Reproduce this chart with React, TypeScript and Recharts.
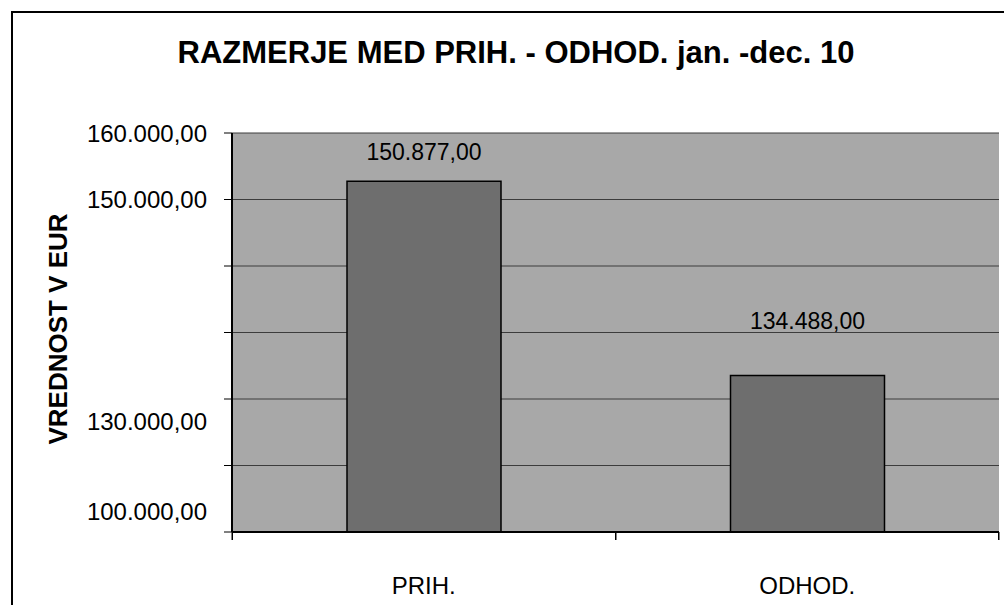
import React from 'react';
import { BarChart, Bar, XAxis, YAxis, CartesianGrid, LabelList } from 'recharts';

const title = 'RAZMERJE MED PRIH. - ODHOD. jan. -dec. 10';
const yAxisTitle = 'VREDNOST V EUR';
const categories = ['PRIH.', 'ODHOD.'];
const barHeights = [152760, 123520];
// value labels as printed in the picture
const valueLabels = ['150.877,00', '134.488,00'];
const yTicks = [100000, 110000, 120000, 130000, 140000, 150000, 160000];
const yTickLabels = ['100.000,00', '', '130.000,00', '', '', '150.000,00', '160.000,00'];

const data = categories.map((name, i) => ({ name, value: barHeights[i], label: valueLabels[i] }));

const FONT = '"Liberation Sans", Arial, sans-serif';
const labelShift = [-21, 0, 22, 0, 0, 0, 0];
const valueLabelGap = [29, 55];

const YTick = (props: any) => {
  const { y, payload } = props;
  const i = yTicks.indexOf(payload.value);
  const txt = yTickLabels[i];
  if (!txt) return <g />;
  return (
    <text x={207} y={y + labelShift[i]} dy="0.36em" textAnchor="end" fontSize={24} fontFamily={FONT} fill="#000">
      {txt}
    </text>
  );
};

const XTick = (props: any) => {
  const { x, y, payload, index } = props;
  const half = 191.5;
  return (
    <g>
      <line x1={x - half} y1={y - 8} x2={x - half} y2={y} stroke="#000" strokeWidth={1.5} />
      {index === categories.length - 1 && (
        <line x1={x + half} y1={y - 8} x2={x + half} y2={y} stroke="#000" strokeWidth={1.5} />
      )}
      <text x={x} y={y + 54} textAnchor="middle" fontSize={24} fontFamily={FONT} fill="#000">
        {payload.value}
      </text>
    </g>
  );
};

const ValueLabel = (props: any) => {
  const { x, y, width, index, value } = props;
  return (
    <text x={x + width / 2} y={y - valueLabelGap[index]} dy="0.36em" textAnchor="middle" fontSize={23} fontFamily={FONT} fill="#000">
      {value}
    </text>
  );
};

const YTitle = (props: any) => {
  const cx = 67;
  const cy = 329;
  return (
    <text x={cx} y={cy} transform={`rotate(-90, ${cx}, ${cy})`} textAnchor="middle" fontSize={26} fontWeight="bold" fontFamily={FONT} fill="#000">
      {yAxisTitle}
    </text>
  );
};

export default function App() {
  return (
    <div style={{ position: 'absolute', left: 0, top: 0, width: 1004, height: 605, background: '#fff', overflow: 'hidden' }}>
      <div style={{ position: 'absolute', left: 11, top: 11, width: 1100, height: 700, borderLeft: '2px solid #000', borderTop: '2px solid #000' }} />
      <svg width={1004} height={100} style={{ position: 'absolute', left: 0, top: 0 }}>
        <text x={516} y={63} textAnchor="middle" fontSize={31} fontWeight="bold" fontFamily={FONT} fill="#000">
          {title}
        </text>
      </svg>
      <div style={{ position: 'absolute', left: 0, top: 0 }}>
        <BarChart width={1004} height={605} data={data} margin={{ top: 133, right: 5, bottom: 23, left: 112 }}>
          <CartesianGrid horizontal vertical={false} fill="#a8a8a8" fillOpacity={1} stroke="#3c3c3c" strokeWidth={1} />
          <XAxis dataKey="name" height={50} tickLine={false} axisLine={{ stroke: '#000', strokeWidth: 2 }} tick={<XTick />} interval={0} />
          <YAxis
            width={120}
            domain={[100000, 160000]}
            ticks={yTicks}
            interval={0}
            tickSize={8}
            tickLine={{ stroke: '#000', strokeWidth: 1 }}
            axisLine={{ stroke: '#000', strokeWidth: 2 }}
            tick={<YTick />}
            label={<YTitle />}
          />
          <YAxis yAxisId="right" orientation="right" width={0} tick={false} tickLine={false} axisLine={{ stroke: '#000', strokeWidth: 2 }} domain={[100000, 160000]} />
          <Bar dataKey="value" fill="#6e6e6e" stroke="#000" strokeWidth={1.5} barSize={154} isAnimationActive={false}>
            <LabelList dataKey="label" content={<ValueLabel />} />
          </Bar>
        </BarChart>
      </div>
    </div>
  );
}
